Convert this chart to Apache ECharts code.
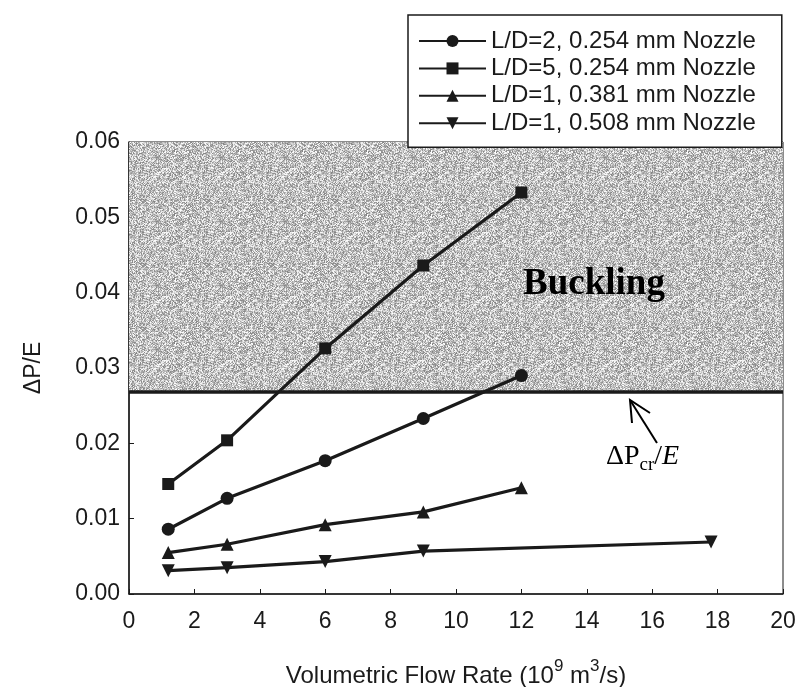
<!DOCTYPE html>
<html>
<head>
<meta charset="utf-8">
<script src="https://cdn.jsdelivr.net/npm/echarts@6/dist/echarts.min.js"></script>
<style>
  html, body { margin: 0; padding: 0; background: #fff; }
  #chart { width: 795px; height: 687px; }
</style>
</head>
<body>
<div id="chart"></div>
<script>
// 数据
var seriesNames = [
    'L/D=2, 0.254 mm Nozzle',
    'L/D=5, 0.254 mm Nozzle',
    'L/D=1, 0.381 mm Nozzle',
    'L/D=1, 0.508 mm Nozzle'
];
var flowLD2 = [1.2, 3, 6, 9, 12];
var valLD2 = [0.0086, 0.0127, 0.0177, 0.0233, 0.0290];
var flowLD5 = [1.2, 3, 6, 9, 12];
var valLD5 = [0.0146, 0.0204, 0.0326, 0.0436, 0.0533];
var flow381 = [1.2, 3, 6, 9, 12];
var val381 = [0.0055, 0.0066, 0.0092, 0.0109, 0.0141];
var flow508 = [1.2, 3, 6, 9, 17.8];
var val508 = [0.0031, 0.0035, 0.0043, 0.0057, 0.0069];
var criticalRatio = 0.0268;
var xTicks = [0, 20, 2];
var yTicks = [0, 0.06, 0.01];

function pairs(xs, ys) {
    var out = [];
    for (var i = 0; i < xs.length; i++) {
        out.push([xs[i], ys[i]]);
    }
    return out;
}

// 灰色噪点底纹(只是样式)
function noisePattern() {
    var c = document.createElement('canvas');
    c.width = 64; c.height = 64;
    var ctx = c.getContext('2d');
    var img = ctx.createImageData(64, 64);
    for (var j = 0; j < 64; j++) {
        for (var i = 0; i < 64; i++) {
            var h = (i * 374761393 + j * 668265263) | 0;
            h = (h ^ (h >>> 13)) * 1274126177 | 0;
            h = (h ^ (h >>> 16)) & 255;
            var g = 130 + Math.round(h / 255 * 125);
            var k = (j * 64 + i) * 4;
            img.data[k] = g; img.data[k + 1] = g; img.data[k + 2] = g; img.data[k + 3] = 255;
        }
    }
    ctx.putImageData(img, 0, 0);
    return c;
}

var ink = '#1a1a1a';
var sansFont = 'Liberation Sans, Arial, sans-serif';
var serifFont = 'Liberation Serif, Times New Roman, serif';

function lineSeries(name, data, symbol, rotate) {
    return {
        name: name,
        type: 'line',
        data: data,
        symbol: symbol,
        symbolSize: symbol === 'rect' ? 12 : 13,
        symbolRotate: rotate || 0,
        lineStyle: { color: ink, width: 3.2 },
        itemStyle: { color: ink },
        z: 5
    };
}

var chart = echarts.init(document.getElementById('chart'));

var option = {
    animation: false,
    backgroundColor: '#fff',
    grid: {
        left: 129, right: 12, top: 142, bottom: 93,
        outerBoundsMode: 'none',
        show: true, borderColor: ink, borderWidth: 1
    },
    legend: {
        orient: 'vertical',
        left: 408, top: 15,
        padding: [14, 26, 12, 10],
        backgroundColor: '#fff',
        borderColor: ink, borderWidth: 1.5,
        itemWidth: 67, itemHeight: 15, itemGap: 3.4,
        textStyle: { fontFamily: sansFont, fontSize: 24, color: ink, lineHeight: 24 },
        data: seriesNames,
        z: 20
    },
    xAxis: {
        type: 'value',
        min: xTicks[0], max: xTicks[1], interval: xTicks[2],
        name: '{n|Volumetric Flow Rate (10}{s|9}{n| m}{s|3}{n|/s)}',
        nameLocation: 'middle', nameGap: 64,
        nameTextStyle: {
            rich: {
                n: { fontFamily: sansFont, fontSize: 24, color: ink, lineHeight: 30, verticalAlign: 'bottom' },
                s: { fontFamily: sansFont, fontSize: 17, color: ink, lineHeight: 30, verticalAlign: 'top' }
            }
        },
        axisLine: { lineStyle: { color: ink, width: 1.5 } },
        axisTick: { inside: true, length: 5, lineStyle: { color: ink } },
        axisLabel: { fontFamily: sansFont, fontSize: 23, color: ink, margin: 16 },
        splitLine: { show: false }
    },
    yAxis: {
        type: 'value',
        min: yTicks[0], max: yTicks[1], interval: yTicks[2],
        name: 'ΔP/E',
        nameLocation: 'middle', nameGap: 84,
        nameTextStyle: { fontFamily: sansFont, fontSize: 23, color: ink },
        axisLine: { lineStyle: { color: ink, width: 1.5 } },
        axisTick: { inside: true, length: 5, lineStyle: { color: ink } },
        axisLabel: {
            fontFamily: sansFont, fontSize: 23, color: ink, margin: 9,
            formatter: function (v) { return v.toFixed(2); }
        },
        splitLine: { show: false }
    },
    series: [
        lineSeries(seriesNames[0], pairs(flowLD2, valLD2), 'circle'),
        lineSeries(seriesNames[1], pairs(flowLD5, valLD5), 'rect'),
        lineSeries(seriesNames[2], pairs(flow381, val381), 'triangle'),
        lineSeries(seriesNames[3], pairs(flow508, val508), 'triangle', 180),
        {
            // 屈曲区域 + 临界线
            name: 'critical',
            type: 'line',
            data: [[xTicks[0], criticalRatio], [xTicks[1], criticalRatio]],
            symbol: 'none',
            silent: true,
            lineStyle: { color: ink, width: 3.5 },
            markArea: {
                silent: true,
                itemStyle: { color: { image: noisePattern(), repeat: 'repeat' } },
                data: [[{ xAxis: xTicks[0], yAxis: criticalRatio }, { xAxis: xTicks[1], yAxis: yTicks[1] }]],
                label: {
                    show: true, position: 'inside',
                    formatter: 'Buckling',
                    fontFamily: serifFont, fontWeight: 'bold', fontSize: 37, color: '#000',
                    offset: [138, 17]
                }
            },
            z: 2
        }
    ],
    graphic: [
        {
            type: 'text',
            left: 606, top: 443,
            style: {
                text: '{a|ΔP}{b|cr}{a|/}{e|E}',
                rich: {
                    a: { fontFamily: serifFont, fontSize: 28, fill: '#000', lineHeight: 32, verticalAlign: 'top' },
                    b: { fontFamily: serifFont, fontSize: 19, fill: '#000', lineHeight: 32, verticalAlign: 'bottom' },
                    e: { fontFamily: serifFont, fontSize: 28, fontStyle: 'italic', fill: '#000', lineHeight: 32, verticalAlign: 'top' }
                }
            },
            z: 30
        },
        {
            type: 'polyline',
            shape: { points: [[657, 443], [630, 400]] },
            style: { stroke: '#000', lineWidth: 2 },
            z: 30
        },
        {
            type: 'polyline',
            shape: { points: [[632, 423], [630, 400], [650, 413]] },
            style: { stroke: '#000', lineWidth: 2, fill: null },
            z: 30
        }
    ]
};

chart.setOption(option);
</script>
</body>
</html>
